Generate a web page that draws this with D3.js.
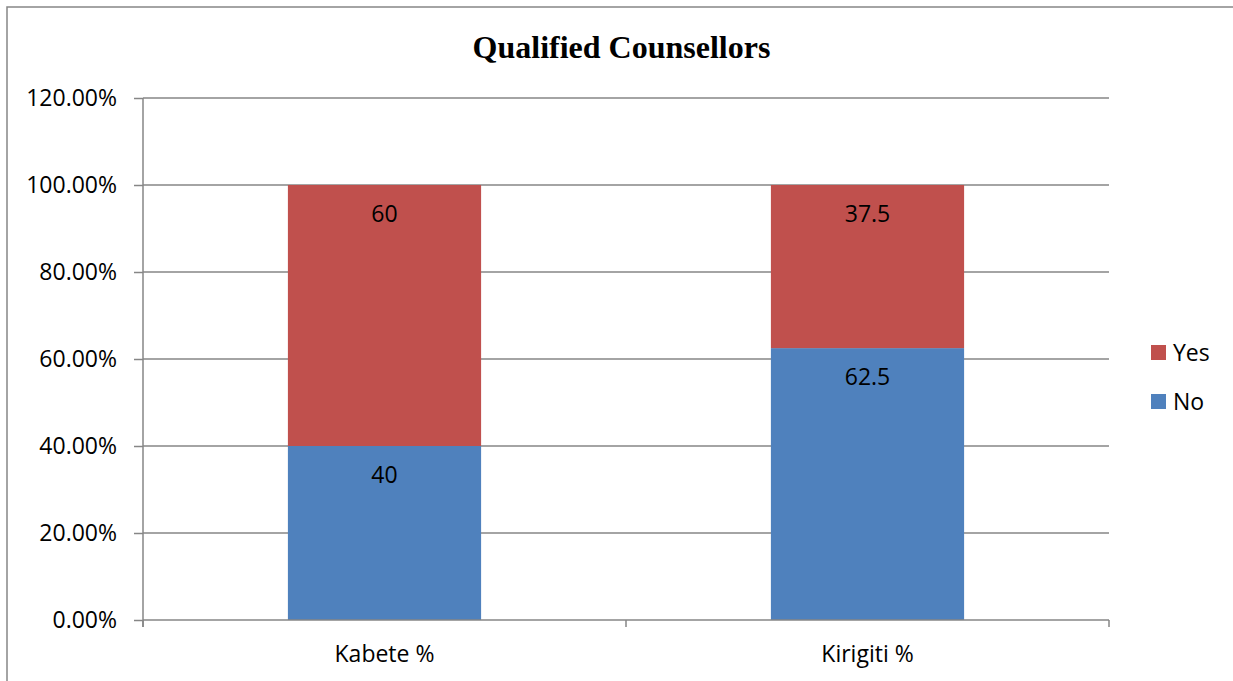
<!DOCTYPE html>
<html>
<head>
<meta charset="utf-8">
<script src="https://cdn.jsdelivr.net/npm/d3@7"></script>
<style>
  html, body { margin: 0; padding: 0; background: #fff; }
  text { font-family: "Open Sans", sans-serif; fill: #000; }
</style>
</head>
<body>
<svg id="paper"></svg>
<script>
// data
let categories = ["Kabete %", "Kirigiti %"];
let seriesNames = ["No", "Yes"];
let noValues = [40, 62.5];
let yesValues = [60, 37.5];
let yTicks = [0, 20, 40, 60, 80, 100, 120];

let colors = {No: "#4F81BD", Yes: "#C0504D"};
let gridColor = "#868686";

let margin = {top: 98, right: 124, bottom: 61, left: 143},
    width = 1233 - margin.left - margin.right,
    height = 681 - margin.top - margin.bottom;

let svg = d3.select("#paper")
        .attr("width", 1233)
        .attr("height", 681),
    g = svg.append("g")
        .attr("transform", "translate(" + margin.left + "," + margin.top + ")");

// chart border
svg.append("rect")
    .attr("x", 7).attr("y", 7)
    .attr("width", 1240).attr("height", 690)
    .attr("fill", "none")
    .attr("stroke", gridColor)
    .attr("stroke-width", 1.5);

svg.append("text")
    .attr("x", 621.5)
    .attr("y", 58)
    .attr("text-anchor", "middle")
    .style("font-family", "'Liberation Serif', 'Times New Roman', serif")
    .style("font-weight", "bold")
    .style("font-size", "32px")
    .text("Qualified Counsellors");

let table = categories.map((c, i) => ({cat: c, No: noValues[i], Yes: yesValues[i]}));
let stacked = d3.stack().keys(seriesNames)(table);

let x = d3.scaleBand().domain(categories).range([0, width]).padding(0);
let y = d3.scaleLinear().domain([0, 120]).range([height, 0]);
let barW = x.bandwidth() * 0.4;

// gridlines
g.selectAll(".grid")
    .data(yTicks.filter(d => d > 0))
    .enter()
    .append("line")
    .attr("x1", 0).attr("x2", width)
    .attr("y1", d => y(d)).attr("y2", d => y(d))
    .attr("stroke", gridColor)
    .attr("stroke-width", 1.5);

// bars
stacked.forEach(s => {
    g.selectAll(".bar-" + s.key)
        .data(s)
        .enter()
        .append("rect")
        .attr("x", d => x(d.data.cat) + (x.bandwidth() - barW) / 2)
        .attr("y", d => y(d[1]))
        .attr("width", barW)
        .attr("height", d => y(d[0]) - y(d[1]))
        .attr("fill", colors[s.key]);

    g.selectAll(".lbl-" + s.key)
        .data(s)
        .enter()
        .append("text")
        .attr("x", d => x(d.data.cat) + x.bandwidth() / 2)
        .attr("y", d => y(d[1]) + 28.5)
        .attr("dy", "0.35em")
        .attr("text-anchor", "middle")
        .style("font-size", "23px")
        .text(d => d.data[s.key]);
});

// y axis
let yAxis = g.append("g")
    .call(d3.axisLeft(y).tickValues(yTicks).tickSize(9).tickPadding(17)
        .tickFormat(d => d.toFixed(2) + "%"));
yAxis.select(".domain").remove();
yAxis.selectAll(".tick line").attr("stroke", gridColor).attr("stroke-width", 1.5);
yAxis.selectAll(".tick text")
    .style("font-family", "'Open Sans', sans-serif")
    .style("font-size", "23px")
    .attr("fill", "#000");
g.append("line")
    .attr("x1", 0).attr("x2", 0)
    .attr("y1", y(120)).attr("y2", height + 7)
    .attr("stroke", gridColor).attr("stroke-width", 1.5);

// x axis
g.append("line")
    .attr("x1", 0).attr("x2", width)
    .attr("y1", height).attr("y2", height)
    .attr("stroke", gridColor).attr("stroke-width", 1.5);
g.selectAll(".xtick")
    .data([0, 1, 2])
    .enter()
    .append("line")
    .attr("x1", d => d * x.step()).attr("x2", d => d * x.step())
    .attr("y1", height).attr("y2", height + 7)
    .attr("stroke", gridColor).attr("stroke-width", 1.5);
g.selectAll(".xlabel")
    .data(categories)
    .enter()
    .append("text")
    .attr("x", d => x(d) + x.bandwidth() / 2)
    .attr("y", height + 42)
    .attr("text-anchor", "middle")
    .style("font-size", "23px")
    .text(d => d);

// legend
let legend = svg.append("g")
    .attr("transform", "translate(1151,345)");
let legendItems = legend.selectAll(".item")
    .data(["Yes", "No"])
    .enter()
    .append("g")
    .attr("transform", (d, i) => "translate(0," + i * 49 + ")");
legendItems.append("rect")
    .attr("width", 15).attr("height", 15)
    .attr("fill", d => colors[d]);
legendItems.append("text")
    .attr("x", 22).attr("y", 7.5)
    .attr("dy", "0.35em")
    .style("font-size", "23px")
    .text(d => d);
</script>
</body>
</html>
